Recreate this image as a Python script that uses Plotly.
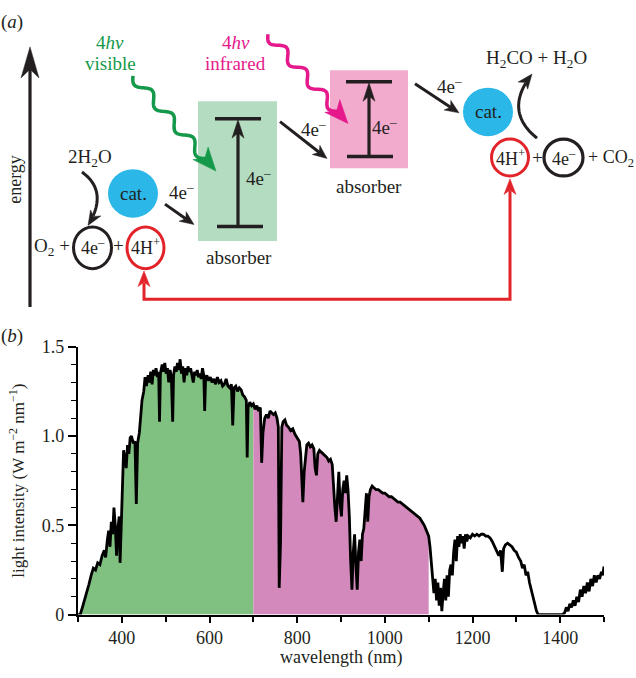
import math
import plotly.graph_objects as go

# ---------------- data ----------------
wavelength = [300, 305, 310, 315, 320, 325, 330, 335, 340, 345, 350, 355, 360, 363, 367, 370, 373, 376, 379, 382,
              385, 388, 391, 394, 396, 399, 402, 404, 407, 410, 413, 416, 419, 422, 426, 430, 433, 436, 440, 443,
              446, 450, 453, 456, 460, 463, 466, 469, 472, 475, 478, 481, 484, 486, 488, 492, 495, 498, 501, 504,
              507, 510, 513, 516, 518, 521, 524, 527, 530, 533, 536, 539, 542, 545, 548, 551, 554, 557, 560, 563,
              566, 569, 572, 575, 578, 581, 584, 587, 589, 591, 594, 598, 602, 606, 610, 614, 618, 622, 626, 630,
              634, 638, 642, 646, 650, 653, 656, 660, 664, 668, 672, 676, 680, 684, 686, 688, 692, 696, 700, 704,
              708, 712, 716, 719, 722, 726, 730, 734, 738, 742, 746, 750, 754, 757, 759, 762, 765, 768, 772, 776,
              780, 785, 790, 795, 800, 805, 808, 811, 813, 816, 819, 822, 826, 830, 834, 838, 841, 844, 847, 851,
              855, 860, 864, 868, 872, 876, 880, 883, 886, 889, 892, 895, 898, 901, 904, 907, 910, 913, 916, 919,
              922, 925, 928, 931, 934, 937, 940, 943, 946, 949, 952, 955, 958, 961, 964, 967, 971, 975, 980, 985,
              990, 995, 1000, 1005, 1010, 1015, 1020, 1025, 1030, 1035, 1040, 1045, 1050, 1055, 1060, 1065, 1070,
              1075, 1080, 1085, 1090, 1095, 1100, 1103, 1106, 1109, 1112, 1115, 1118, 1121, 1124, 1127, 1130, 1133,
              1136, 1139, 1142, 1145, 1148, 1151, 1154, 1157, 1160, 1163, 1166, 1169, 1172, 1175, 1178, 1181, 1184,
              1187, 1190, 1195, 1200, 1205, 1210, 1215, 1220, 1225, 1230, 1235, 1240, 1245, 1250, 1255, 1260, 1264,
              1268, 1271, 1275, 1280, 1285, 1290, 1295, 1300, 1305, 1310, 1314, 1318, 1322, 1326, 1330, 1334, 1338,
              1342, 1346, 1350, 1360, 1380, 1400, 1405, 1410, 1414, 1418, 1422, 1426, 1430, 1434, 1438, 1442, 1446,
              1450, 1454, 1458, 1462, 1466, 1470, 1474, 1478, 1482, 1486, 1490, 1494, 1497, 1500]
intensity = [0.0, 0.0, 0.04, 0.08, 0.12, 0.17, 0.22, 0.26, 0.25, 0.29, 0.28, 0.33, 0.36, 0.32, 0.42, 0.47, 0.38, 0.52, 0.45, 0.60,
             0.50, 0.33, 0.48, 0.55, 0.29, 0.58, 0.75, 0.92, 0.88, 0.82, 0.95, 0.90, 0.99, 1.00, 0.96, 0.97, 0.62, 0.96, 1.02, 1.12,
             1.20, 1.25, 1.33, 1.28, 1.34, 1.30, 1.36, 1.29, 1.37, 1.34, 1.38, 1.33, 1.36, 1.08, 1.35, 1.40, 1.36, 1.41, 1.35, 1.38,
             1.30, 1.37, 1.33, 1.08, 1.34, 1.39, 1.36, 1.41, 1.37, 1.43, 1.35, 1.39, 1.30, 1.38, 1.34, 1.39, 1.36, 1.38, 1.33, 1.30,
             1.36, 1.34, 1.37, 1.33, 1.35, 1.32, 1.38, 1.34, 1.14, 1.32, 1.34, 1.31, 1.33, 1.30, 1.32, 1.29, 1.33, 1.30, 1.31, 1.28,
             1.29, 1.32, 1.28, 1.27, 1.29, 1.06, 1.27, 1.28, 1.25, 1.27, 1.26, 1.23, 1.22, 1.20, 0.88, 1.16, 1.19, 1.17, 1.18, 1.15,
             1.17, 1.14, 1.16, 0.85, 1.02, 1.10, 1.12, 1.10, 1.14, 1.13, 1.12, 1.13, 1.10, 1.05, 0.15, 0.40, 1.05, 1.08, 1.09, 1.06,
             1.05, 1.03, 1.04, 1.01, 0.99, 0.97, 0.90, 0.70, 0.63, 0.80, 0.90, 0.95, 0.96, 0.94, 0.95, 0.93, 0.82, 0.78, 0.90, 0.92,
             0.91, 0.90, 0.89, 0.88, 0.86, 0.87, 0.84, 0.70, 0.60, 0.52, 0.68, 0.80, 0.62, 0.55, 0.70, 0.75, 0.68, 0.78, 0.70, 0.55,
             0.30, 0.14, 0.35, 0.45, 0.28, 0.14, 0.35, 0.42, 0.30, 0.45, 0.48, 0.60, 0.68, 0.52, 0.66, 0.70, 0.72, 0.71, 0.70, 0.70,
             0.69, 0.68, 0.68, 0.67, 0.66, 0.66, 0.65, 0.64, 0.63, 0.63, 0.62, 0.61, 0.60, 0.59, 0.58, 0.57, 0.56,
             0.55, 0.54, 0.52, 0.50, 0.47, 0.44, 0.38, 0.30, 0.22, 0.12, 0.20, 0.08, 0.18, 0.05, 0.15, 0.02, 0.12,
             0.20, 0.08, 0.22, 0.10, 0.25, 0.28, 0.22, 0.35, 0.42, 0.30, 0.44, 0.38, 0.45, 0.40, 0.44, 0.37, 0.45,
             0.41, 0.44, 0.43, 0.45, 0.44, 0.45, 0.44, 0.45, 0.45, 0.44, 0.44, 0.43, 0.41, 0.38, 0.35, 0.33, 0.36,
             0.24, 0.37, 0.39, 0.40, 0.39, 0.38, 0.36, 0.35, 0.32, 0.30, 0.26, 0.28, 0.22, 0.24, 0.18, 0.14, 0.10,
             0.05, 0.02, 0.0, 0.0, 0.0, 0.0, 0.0, 0.01, 0.04, 0.02, 0.06, 0.04, 0.08, 0.05, 0.10, 0.07, 0.14,
             0.10, 0.16, 0.12, 0.18, 0.13, 0.20, 0.16, 0.22, 0.18, 0.22, 0.20, 0.24, 0.22, 0.27]

VISIBLE_END = 700
INFRARED_END = 1100
x_tick_major = [400, 600, 800, 1000, 1200, 1400]
x_tick_minor = [300, 500, 700, 900, 1100, 1300, 1500]
y_tick_vals = [0, 0.5, 1.0, 1.5]
y_tick_text = ["0", "0.5", "1.0", "1.5"]

vis_x = [w for w in wavelength if w <= VISIBLE_END]
vis_y = [v for w, v in zip(wavelength, intensity) if w <= VISIBLE_END]
ir_x = [w for w in wavelength if VISIBLE_END <= w <= INFRARED_END]
ir_y = [v for w, v in zip(wavelength, intensity) if VISIBLE_END <= w <= INFRARED_END]

# ---------------- style ----------------
W, H = 636, 678
FONT = "Liberation Serif, Times New Roman, serif"
FS = 19
INK = "#231f20"
GREEN_FILL = "#80c080"
PINK_FILL = "#d389bb"
BOX_GREEN = "#b3dcc0"
BOX_PINK = "#f2aacd"
CAT = "#2bb7e8"
WAVE_GREEN = "#14994a"
WAVE_PINK = "#e5198b"
RED = "#e2232a"

def X(p):
    return p / W

def Y(p):
    return 1 - p / H

shapes = []
annotations = []

def P(pts, close=False):
    s = " ".join(("M" if i == 0 else "L") + f"{X(x):.5f},{Y(y):.5f}" for i, (x, y) in enumerate(pts))
    return s + (" Z" if close else "")

def add_line(pts, color, width):
    shapes.append(dict(type="path", path=P(pts), xref="paper", yref="paper",
                       line=dict(color=color, width=width), fillcolor="rgba(0,0,0,0)", layer="above"))

def add_head(tip, u, L, hw, color):
    n = math.hypot(*u)
    ux, uy = u[0] / n, u[1] / n
    px_, py_ = -uy, ux
    bx, by = tip[0] - L * ux, tip[1] - L * uy
    left = (bx + hw * px_, by + hw * py_)
    right = (bx - hw * px_, by - hw * py_)
    notch = (tip[0] - 0.72 * L * ux, tip[1] - 0.72 * L * uy)
    shapes.append(dict(type="path", path=P([tip, left, notch, right], close=True), xref="paper", yref="paper",
                       line=dict(color=color, width=0.5), fillcolor=color, layer="above"))

def arrow(start, tip, color=INK, width=3, L=14, hw=6):
    u = (tip[0] - start[0], tip[1] - start[1])
    n = math.hypot(*u)
    end = (tip[0] - 0.7 * L * u[0] / n, tip[1] - 0.7 * L * u[1] / n)
    add_line([start, end], color, width)
    add_head(tip, u, L, hw, color)

def curved(start, ctrl, tip, color=INK, width=3, L=15, hw=6):
    pts = []
    for i in range(41):
        t = i / 40
        x = (1 - t) ** 2 * start[0] + 2 * (1 - t) * t * ctrl[0] + t ** 2 * tip[0]
        y = (1 - t) ** 2 * start[1] + 2 * (1 - t) * t * ctrl[1] + t ** 2 * tip[1]
        if math.hypot(x - tip[0], y - tip[1]) > 0.7 * L:
            pts.append((x, y))
    add_line(pts, color, width)
    add_head(tip, (tip[0] - ctrl[0], tip[1] - ctrl[1]), L, hw, color)

def wavy(start, tip, color, width=3.5, L=24, hw=10, amp=5, periods=3.5):
    u = (tip[0] - start[0], tip[1] - start[1])
    n = math.hypot(*u)
    ux, uy = u[0] / n, u[1] / n
    px_, py_ = -uy, ux
    end_len = n - 0.7 * L
    pts = []
    for i in range(161):
        t = i / 160
        s = t * end_len
        off = amp * math.sin(2 * math.pi * periods * t)
        pts.append((start[0] + s * ux + off * px_, start[1] + s * uy + off * py_))
    add_line(pts, color, width)
    add_head(tip, u, L, hw, color)

def text(x, y, s, size=FS, color=INK, xanchor="center", angle=0):
    annotations.append(dict(x=X(x), y=Y(y), xref="paper", yref="paper", text=s, showarrow=False,
                            xanchor=xanchor, yanchor="middle", textangle=angle,
                            font=dict(family=FONT, size=size, color=color)))

def rect(x0, y0, x1, y1, color):
    shapes.append(dict(type="rect", x0=X(x0), x1=X(x1), y0=Y(y1), y1=Y(y0), xref="paper", yref="paper",
                       line=dict(width=0), fillcolor=color, layer="below"))

def ellipse(cx, cy, rx, ry, fill=None, line_color=None, width=3):
    shapes.append(dict(type="circle", x0=X(cx - rx), x1=X(cx + rx), y0=Y(cy + ry), y1=Y(cy - ry),
                       xref="paper", yref="paper",
                       line=dict(width=width if line_color else 0, color=line_color or "rgba(0,0,0,0)"),
                       fillcolor=fill or "rgba(0,0,0,0)", layer="above"))

# ---------------- panel (a) diagram ----------------
rect(198, 94, 277, 238, BOX_GREEN)
rect(330, 62, 408, 163, BOX_PINK)

# energy axis
arrow((30, 306), (30, 38), INK, 3.2, L=32, hw=9)
text(15, 175, "energy", size=18, angle=-90)

# absorber levels
add_line([(215, 112), (261, 112)], INK, 3.5)
add_line([(217, 223), (263, 223)], INK, 3.5)
arrow((238, 223), (238, 113), INK, 3.2, L=19, hw=6)
add_line([(346, 74), (392, 74)], INK, 3.5)
add_line([(347, 151), (393, 151)], INK, 3.5)
arrow((369, 151), (369, 75), INK, 3.2, L=19, hw=6)

# photons
wavy((133, 68), (216, 166), WAVE_GREEN, 3.5, L=24, hw=10, amp=5, periods=3.5)
wavy((268, 25), (348, 117), WAVE_PINK, 3.5, L=24, hw=10, amp=5, periods=3.5)

# electron transfer arrows
arrow((165, 200), (194, 221))
arrow((280, 115), (327, 153))
arrow((415, 76), (459, 106))

# catalysts
ellipse(133, 189, 25, 25, fill=CAT)
ellipse(488, 105, 25, 25, fill=CAT)

# curved reaction arrows
curved((82, 167), (109, 187), (88, 222))
curved((537, 132), (503, 104), (532, 66))

# circles around species
ellipse(92.5, 245, 19, 21.5, line_color=INK, width=3)
ellipse(145.5, 245, 18.5, 21.5, line_color=RED, width=3)
ellipse(510, 152, 18.5, 19, line_color=RED, width=3)
ellipse(563.5, 152, 19.5, 19, line_color=INK, width=3.2)

# proton return path
add_line([(144, 281), (144, 298), (510, 298), (510, 186)], RED, 3)
add_head((144, 269), (0, -1), 16, 6, RED)
add_head((510, 174), (0, -1), 16, 6, RED)

# labels
text(12, 12, "(<i>a</i>)")
text(110, 33, "4<i>hv</i>", color=WAVE_GREEN)
text(110, 55, "visible", color=WAVE_GREEN)
text(236, 33, "4<i>hv</i>", color=WAVE_PINK)
text(236, 55, "infrared", color=WAVE_PINK)
text(90, 152, "2H<sub>2</sub>O")
text(133, 189, "cat.")
text(488, 105, "cat.")
text(181, 187, "4e<sup>–</sup>")
text(258, 172, "4e<sup>–</sup>")
text(313, 122, "4e<sup>–</sup>")
text(384, 120, "4e<sup>–</sup>")
text(449, 77, "4e<sup>–</sup>")
text(239, 255, "absorber")
text(369, 182, "absorber")
text(536, 50, "H<sub>2</sub>CO + H<sub>2</sub>O")
text(72, 244, "O<sub>2</sub> +", xanchor="right")
text(92.5, 244, "4e<sup>–</sup>", size=18)
text(119, 243, "+")
text(145.5, 244, "4H<sup>+</sup>", size=18)
text(510, 152, "4H<sup>+</sup>", size=18)
text(537, 152, "+")
text(563.5, 152, "4e<sup>–</sup>", size=18)
text(586, 153, "+ CO<sub>2</sub>", size=18, xanchor="left")

# panel (b) labels
text(12, 336, "(<i>b</i>)")
text(17, 485, "light intensity (W m<sup>−2</sup> nm<sup>−1</sup>)", size=17, angle=-90)
text(341, 667, "wavelength (nm)", size=18)

# ---------------- panel (b) spectrum ----------------
fig = go.Figure()
fig.add_trace(go.Scatter(x=vis_x, y=vis_y, mode="lines", fill="tozeroy", fillcolor=GREEN_FILL,
                         line=dict(width=0, color=GREEN_FILL), hoverinfo="skip", showlegend=False))
fig.add_trace(go.Scatter(x=ir_x, y=ir_y, mode="lines", fill="tozeroy", fillcolor=PINK_FILL,
                         line=dict(width=0, color=PINK_FILL), hoverinfo="skip", showlegend=False))
fig.add_trace(go.Scatter(x=wavelength, y=intensity, mode="lines", line=dict(color="black", width=2.8),
                         showlegend=False))

fig.update_layout(
    width=W, height=H, margin=dict(l=0, r=0, t=0, b=0),
    paper_bgcolor="white", plot_bgcolor="white",
    showlegend=False,
    font=dict(family=FONT, size=18, color=INK),
    shapes=shapes, annotations=annotations,
    xaxis=dict(domain=[X(78), X(604)], range=[300, 1500], showgrid=False, zeroline=False,
               showline=True, linecolor="black", linewidth=2.2, ticks="outside", ticklen=6, tickwidth=1.6,
               tickcolor="black", tickvals=x_tick_major, tickfont=dict(family=FONT, size=18, color=INK),
               minor=dict(tickvals=x_tick_minor, ticks="outside", ticklen=5, tickwidth=1.6, tickcolor="black"),
               anchor="y"),
    yaxis=dict(domain=[Y(623), Y(347)], range=[0, 1.5], showgrid=False, zeroline=False,
               showline=True, linecolor="black", linewidth=2.2, ticks="outside", ticklen=8, tickwidth=1.6,
               tickcolor="black", tickvals=y_tick_vals, ticktext=y_tick_text,
               tickfont=dict(family=FONT, size=18, color=INK),
               minor=dict(dtick=0.1, ticks="outside", ticklen=5, tickwidth=1.4, tickcolor="black"),
               anchor="x"),
)

fig.write_html("out.html", config={"displayModeBar": False},
               post_script="document.body.style.margin='0px';document.body.style.overflow='hidden';")
